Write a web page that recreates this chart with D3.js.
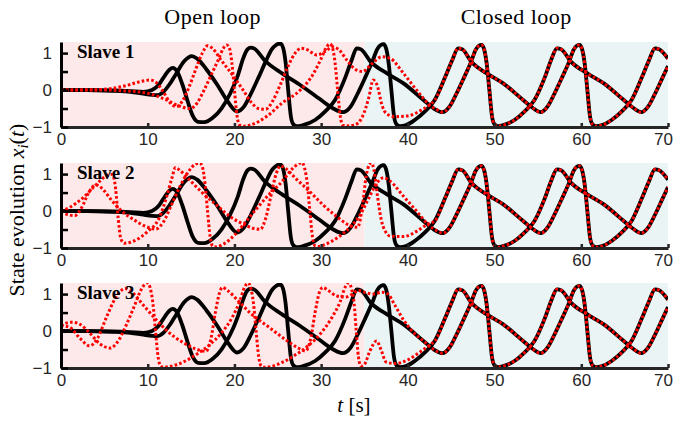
<!DOCTYPE html>
<html>
<head>
<meta charset="utf-8">
<script src="https://cdn.jsdelivr.net/npm/d3@7/dist/d3.min.js"></script>
<style>
  body { margin: 0; background: #fff; }
</style>
</head>
<body>
<div id="chart"></div>
<script>
// master states (black), [t, value]
var masterA = [[0,0],[3,0],[6,-0.01],[8,-0.03],[9.5,-0.05],[10.5,0],[11.3,0.15],[12,0.4],[12.5,0.55],[12.9,0.6],[13.4,0.5],[14,0.15],[14.6,-0.3],[15.2,-0.7],[15.8,-0.86],[16.5,-0.87],[17.5,-0.75],[18.5,-0.5],[19.5,-0.1],[20.4,0.4],[21,0.85],[21.5,1.1],[21.9,1.15],[22.3,1.12],[23.5,0.8],[25.5,0.45],[27.5,0.15],[30,-0.27],[31.4,-0.5],[32.5,-0.6],[33.4,-0.45],[34.2,-0.1],[35.1,0.35],[35.9,0.77],[36.5,1.12],[36.9,1.22],[37.2,1.24],[37.5,1.12],[37.8,0.7],[38.1,0],[38.4,-0.7],[38.7,-0.93],[39.1,-0.98],[39.8,-0.95],[40.8,-0.81],[42,-0.57],[43.1,-0.27],[44.3,0.35],[45.1,0.8],[45.8,1.13],[46.3,1.1],[47.3,0.77],[49.1,0.45],[51,0.18],[53.3,-0.27],[54.5,-0.5],[55.3,-0.6],[56.1,-0.45],[56.9,-0.1],[57.8,0.35],[58.6,0.77],[59.1,1.08],[59.5,1.2],[59.8,1.22],[60.1,1.1],[60.4,0.7],[60.7,0],[61,-0.7],[61.3,-0.93],[61.7,-0.98],[62.4,-0.95],[63.5,-0.81],[64.7,-0.57],[65.8,-0.27],[67,0.35],[67.8,0.8],[68.5,1.13],[69,1.1],[70,0.85]];
var masterB = [[0,0],[3,0],[6,-0.02],[8,-0.05],[9.5,-0.1],[10.5,-0.13],[11.1,-0.14],[11.8,-0.05],[12.5,0.15],[13.3,0.45],[14.2,0.78],[15.1,0.92],[15.7,0.85],[16.8,0.55],[18,0.15],[19.2,-0.3],[20.3,-0.58],[21.1,-0.45],[21.9,-0.1],[22.8,0.35],[23.6,0.77],[24.3,1.1],[24.8,1.22],[25.3,1.26],[25.6,1.15],[25.9,0.75],[26.2,0],[26.5,-0.7],[26.8,-0.93],[27.2,-0.98],[27.9,-0.95],[29.3,-0.81],[30.5,-0.57],[31.6,-0.27],[32.8,0.35],[33.5,0.8],[34.1,1.13],[34.6,1.1],[35.7,0.77],[37.6,0.45],[39.5,0.18],[41.8,-0.27],[43,-0.5],[44,-0.6],[44.8,-0.45],[45.6,-0.1],[46.5,0.35],[47.3,0.77],[47.8,1.08],[48.2,1.2],[48.5,1.22],[48.8,1.1],[49.1,0.7],[49.4,0],[49.7,-0.7],[50,-0.93],[50.4,-0.98],[51,-0.95],[52.3,-0.81],[53.5,-0.57],[54.6,-0.27],[55.8,0.35],[56.5,0.8],[57.2,1.13],[57.7,1.1],[58.8,0.77],[60.7,0.45],[62.6,0.18],[64.9,-0.27],[66.1,-0.5],[66.9,-0.6],[67.7,-0.45],[68.5,-0.1],[69.4,0.35],[70,0.65]];

// slave states (red) until they lock onto a master state
var slave1a = [[0,0],[4,0.01],[6,0.05],[7.5,0.12],[9,0.22],[10.3,0.27],[11,0.2],[11.8,-0.05],[12.6,-0.35],[13.3,-0.45],[14,-0.3],[14.8,0.1],[15.6,0.6],[16.3,1.0],[16.9,1.2],[17.5,1.12],[18.5,0.8],[19.8,0.4],[21,0],[22,-0.35],[22.8,-0.5],[23.6,-0.52],[24.4,-0.3],[25.3,0.15],[26.2,0.65],[27,1.0],[27.7,1.13],[28.3,1.1],[29.5,0.95],[30.5,1.05],[31.3,1.17],[32,1.1],[33,0.8],[34,0.55],[34.8,0.5],[35.8,0.7],[37,0.9],[38,0.85],[39.5,0.45],[41,0],[42.5,-0.4],[43.5,-0.55],[44,-0.6]];
var slave1b = [[0,0],[5,0],[7,-0.02],[9,-0.05],[10.5,-0.12],[12,-0.25],[13.5,-0.42],[14.9,-0.5],[15.7,-0.35],[16.5,0],[17.4,0.45],[18.2,0.85],[18.7,1.12],[19.1,1.22],[19.4,1.15],[19.7,0.75],[20,0],[20.3,-0.7],[20.6,-0.95],[21,-0.98],[21.8,-0.95],[23.8,-0.7],[25.5,-0.35],[27.6,0],[29,0.4],[30,0.85],[30.6,1.15],[31,1.25],[31.3,1.15],[31.6,0.75],[31.9,0],[32.2,-0.7],[32.5,-0.95],[32.9,-0.97],[33.8,-0.95],[34.8,-0.7],[35.5,-0.2],[36,0.27],[36.5,0.1],[37,-0.4],[37.5,-0.63],[38.5,-0.72],[40,-0.7],[41.5,-0.55],[42.5,-0.4],[43.1,-0.27]];
var slave2a = [[0,-0.02],[0.8,-0.1],[1.6,-0.12],[2.4,0.1],[3.2,0.5],[4,0.71],[4.7,0.62],[5.8,0.3],[7,0],[8.5,-0.25],[9.8,-0.42],[10.9,-0.49],[11.8,-0.3],[12.8,0.2],[13.8,0.7],[14.8,1.1],[15.5,1.27],[16,1.3],[16.3,1.2],[16.6,0.75],[16.9,0],[17.2,-0.7],[17.5,-0.95],[17.9,-0.97],[18.7,-0.9],[20,-0.65],[21.1,-0.35],[22.5,0.05],[24,0.45],[25.5,0.8],[26.7,1.15],[27.4,1.28],[27.8,1.31],[28.1,1.15],[28.4,0.75],[28.7,0],[29,-0.7],[29.3,-0.94],[29.7,-0.96],[30.5,-0.9],[32,-0.7],[33.5,-0.4],[34.5,-0.1],[35.5,0.35],[36.4,0.75],[37.2,0.9],[38,0.8],[39.5,0.4],[41,0],[42.5,-0.4],[43.5,-0.55],[44,-0.6]];
var slave2b = [[0,0],[1,0.1],[2.5,0.35],[4,0.7],[5.2,0.95],[5.9,0.99],[6.3,0.6],[6.6,-0.2],[6.9,-0.75],[7.3,-0.87],[8.5,-0.8],[10,-0.55],[11.3,-0.2],[12.2,0.4],[12.8,0.9],[13.2,1.18],[13.7,1.1],[15,0.8],[16.5,0.45],[18,0.15],[19.5,-0.15],[21,-0.35],[22.2,-0.47],[23,-0.49],[23.6,-0.2],[24.2,0.4],[24.8,1.0],[25.3,1.22],[25.9,1.15],[27.2,0.85],[28.8,0.5],[30.3,0.15],[31.8,-0.15],[33.2,-0.38],[34.2,-0.44],[34.8,0.2],[35.2,0.95],[35.55,1.25],[35.8,1.3],[36.1,1.1],[36.5,0.4],[36.9,-0.2],[37.4,-0.55],[38,-0.68],[39.5,-0.69],[41,-0.55],[42.3,-0.35],[43.1,-0.27]];
var slave3a = [[0,0.15],[0.7,0.22],[1.3,0.24],[2.2,0.18],[3.3,-0.05],[4.5,-0.35],[5.7,-0.46],[6.5,-0.3],[7.5,0.15],[8.5,0.7],[9.2,1.1],[9.7,1.27],[10,1.3],[10.3,1.15],[10.6,0.75],[10.9,0],[11.2,-0.7],[11.5,-0.95],[11.9,-0.98],[12.5,-0.96],[14,-0.85],[15.5,-0.65],[17,-0.4],[18.5,-0.05],[19.7,0.35],[20.6,0.8],[21.2,1.2],[21.6,1.3],[21.9,1.15],[22.2,0.75],[22.5,0],[22.8,-0.7],[23.1,-0.95],[23.5,-0.98],[24.2,-0.96],[25.5,-0.85],[27,-0.65],[28.5,-0.4],[30,-0.05],[31.2,0.35],[32.2,0.8],[32.8,1.2],[33.2,1.3],[33.5,1.15],[33.8,0.75],[34.05,0],[34.3,-0.7],[34.6,-0.95],[35,-0.9],[35.6,-0.55],[36.4,-0.27],[36.9,-0.5],[37.5,-0.84],[38.5,-0.88],[40,-0.78],[41.5,-0.55],[42.5,-0.38],[43.1,-0.27]];
var slave3b = [[0,0.15],[1,0.1],[2.2,-0.2],[3.3,-0.4],[4.2,-0.2],[5.2,0.35],[6.3,0.9],[7.4,1.15],[8.2,1.05],[9.5,0.7],[11,0.3],[12.5,-0.05],[14,-0.3],[15.5,-0.48],[16.7,-0.55],[17.3,-0.2],[17.8,0.5],[18.3,1.05],[18.6,1.18],[19.2,1.1],[20.5,0.8],[22,0.45],[24,0.1],[26,-0.25],[27.3,-0.45],[28.2,-0.54],[28.8,-0.2],[29.3,0.5],[29.8,1.05],[30.2,1.18],[30.8,1.1],[31.8,0.95],[32.8,0.92],[33.6,1.0],[34.3,1.1],[35,1.05],[36,1.0],[37,1.05],[37.7,1.0],[38.5,0.7],[39.5,0.3],[40.5,0]];

var panelNames = ["Slave 1", "Slave 2", "Slave 3"];
var phaseNames = ["Open loop", "Closed loop"];
var switchTime = 35;
var xTicks = [0, 10, 20, 30, 40, 50, 60, 70];
var yTicks = [-1, -0.5, 0, 0.5, 1];

var masters = {A: masterA, B: masterB};
var panels = [
  {name: panelNames[0], slaves: [[slave1a, "B"], [slave1b, "A"]]},
  {name: panelNames[1], slaves: [[slave2a, "B"], [slave2b, "A"]]},
  {name: panelNames[2], slaves: [[slave3a, "A"], [slave3b, "B"]]}
];

// after locking, the slave state is the master state
function locked(s, key) {
  var last = s[s.length - 1][0];
  return s.concat(masters[key].filter(function(d) { return d[0] > last; }));
}

var svg = d3.select("#chart").append("svg")
  .attr("width", 676)
  .attr("height", 421);

var x = d3.scaleLinear().domain([0, 70]).range([61, 668]);
var tops = [42, 163, 283];
var pH = 85;

svg.selectAll(".phase").data(phaseNames).enter()
  .append("text")
  .attr("class", "phase")
  .attr("x", function(d, i) { return x(i == 0 ? switchTime / 2 : (switchTime + 70) / 2); })
  .attr("y", 24)
  .attr("text-anchor", "middle")
  .style("font-family", "Liberation Serif, serif")
  .style("font-size", "22px")
  .style("letter-spacing", "0.5px")
  .text(function(d) { return d; });

panels.forEach(function(p, k) {
  var y = d3.scaleLinear().domain([-1, 1.3]).range([tops[k] + pH, tops[k]]);
  var g = svg.append("g");

  g.append("clipPath").attr("id", "clip" + k)
    .append("rect")
    .attr("x", x(0)).attr("y", tops[k])
    .attr("width", x(70) - x(0)).attr("height", pH);

  g.append("rect")
    .attr("x", x(0)).attr("y", tops[k])
    .attr("width", x(switchTime) - x(0)).attr("height", pH)
    .style("fill", "#fde9e9");
  g.append("rect")
    .attr("x", x(switchTime)).attr("y", tops[k])
    .attr("width", x(70) - x(switchTime)).attr("height", pH)
    .style("fill", "#eaf4f5");

  var line = d3.line()
    .x(function(d) { return x(d[0]); })
    .y(function(d) { return y(d[1]); })
    .curve(d3.curveMonotoneX);

  var lines = g.append("g").attr("clip-path", "url(#clip" + k + ")");
  lines.selectAll(".master").data([masterA, masterB]).enter()
    .append("path")
    .attr("class", "master")
    .attr("d", line)
    .style("fill", "none")
    .style("stroke", "#000")
    .style("stroke-width", 3.8)
    .style("stroke-linejoin", "round");
  lines.selectAll(".slave").data(p.slaves).enter()
    .append("path")
    .attr("class", "slave")
    .attr("d", function(d) { return line(locked(d[0], d[1])); })
    .style("fill", "none")
    .style("stroke", "#ff0000")
    .style("stroke-width", 3)
    .style("stroke-dasharray", "2.6,2.2");

  var xAxis = d3.axisBottom(x).tickValues(xTicks).tickSize(-4).tickSizeOuter(0).tickPadding(6);
  var yAxis = d3.axisLeft(y).tickValues(yTicks).tickSize(-7).tickSizeOuter(0).tickPadding(9)
    .tickFormat(function(d) { return d % 1 == 0 ? d3.format("d")(d) : ""; });

  var ax = g.append("g").attr("transform", "translate(0," + (tops[k] + pH) + ")").call(xAxis);
  var ay = g.append("g").attr("transform", "translate(" + x(0) + ",0)").call(yAxis);
  ax.select(".domain").style("stroke", "#262626").style("stroke-width", 3);
  ax.selectAll(".tick line").style("stroke", "#262626").style("stroke-width", 2.5);
  ay.select(".domain").style("stroke", "#000").style("stroke-width", 3);
  ay.selectAll(".tick line").style("stroke", "#000").style("stroke-width", 2.5);
  [ax, ay].forEach(function(a) {
    a.selectAll("text")
      .style("font-family", "Liberation Sans, Arial, sans-serif")
      .style("font-size", "17px")
      .style("fill", "#262626");
  });
  // last label sits at the window edge
  ax.selectAll(".tick text").filter(function(d) { return d == 70; }).attr("dx", -5);

  g.append("text")
    .attr("x", 77).attr("y", tops[k] + 16)
    .style("font-family", "Liberation Serif, serif")
    .style("font-weight", "bold")
    .style("font-size", "19px")
    .text(p.name);
});

var yl = svg.append("text")
  .attr("transform", "translate(24,210) rotate(-90)")
  .attr("text-anchor", "middle")
  .style("font-family", "Liberation Serif, serif")
  .style("font-size", "22px");
yl.append("tspan").text("State evolution  ");
yl.append("tspan").style("font-style", "italic").text("x");
yl.append("tspan").style("font-style", "italic").style("font-size", "15px").attr("dy", 4).text("i");
yl.append("tspan").attr("dy", -4).text("(");
yl.append("tspan").style("font-style", "italic").text("t");
yl.append("tspan").text(")");

var xl = svg.append("text")
  .attr("x", 354).attr("y", 412)
  .attr("text-anchor", "middle")
  .style("font-family", "Liberation Serif, serif")
  .style("font-size", "21px");
xl.append("tspan").style("font-style", "italic").text("t");
xl.append("tspan").text("  [s]");
</script>
</body>
</html>
